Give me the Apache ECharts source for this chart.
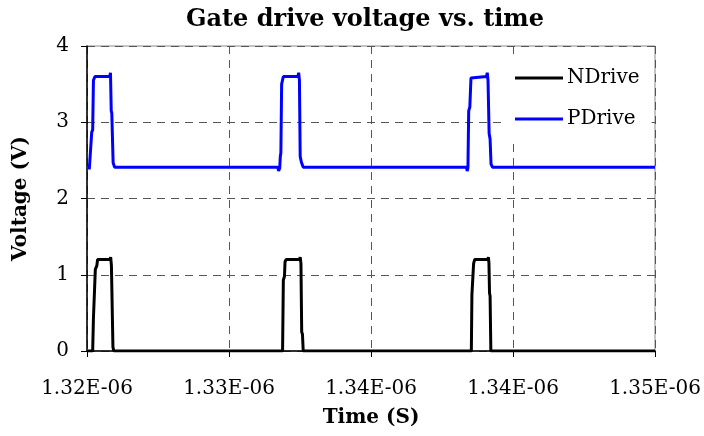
<!DOCTYPE html>
<html>
<head>
<meta charset="utf-8">
<script src="https://cdn.jsdelivr.net/npm/echarts@6/dist/echarts.min.js"></script>
<style>
  html, body { margin: 0; padding: 0; background: #fff; }
  #chart { width: 704px; height: 436px; }
</style>
</head>
<body>
<div id="chart"></div>
<script>
// time in ns, voltage in V
const xTickLabels = ['1.32E-06', '1.33E-06', '1.34E-06', '1.34E-06', '1.35E-06']

const nDrive = [
  [1320.05, 0], [1320.30, 0], [1320.34, 0.43], [1320.40, 0.45], [1320.44, 1.07], [1320.52, 1.12],
  [1320.56, 1.2], [1321.20, 1.2], [1321.25, 1.23], [1321.29, 1.12], [1321.33, 1.10], [1321.37, 0.05],
  [1321.42, 0],
  [1330.33, 0], [1330.37, 0.93], [1330.43, 0.98], [1330.46, 1.17], [1330.52, 1.2], [1331.22, 1.2],
  [1331.26, 1.23], [1331.30, 1.15], [1331.34, 0.25], [1331.38, 0.22], [1331.42, 0],
  [1340.30, 0], [1340.33, 0.74], [1340.38, 0.76], [1340.42, 1.15], [1340.48, 1.2], [1341.17, 1.2],
  [1341.20, 1.23], [1341.23, 1.15], [1341.26, 0.76], [1341.29, 0.72], [1341.33, 0],
  [1350, 0],
]

const pDrive = [
  [1320.12, 2.38], [1320.22, 2.4], [1320.25, 2.87], [1320.30, 2.9], [1320.34, 3.55], [1320.42, 3.6],
  [1321.20, 3.6], [1321.24, 3.65], [1321.28, 3.15], [1321.31, 3.12], [1321.38, 2.47], [1321.46, 2.41],
  [1330.08, 2.41], [1330.12, 2.36], [1330.18, 2.4], [1330.21, 2.55], [1330.24, 2.6], [1330.28, 3.5],
  [1330.37, 3.6], [1331.14, 3.6], [1331.18, 3.65], [1331.22, 3.55], [1331.26, 2.55], [1331.32, 2.48],
  [1331.42, 2.41],
  [1340.04, 2.41], [1340.08, 2.36], [1340.12, 2.4], [1340.16, 3.15], [1340.22, 3.2], [1340.28, 3.58],
  [1340.34, 3.6], [1341.10, 3.6], [1341.14, 3.65], [1341.18, 3.55], [1341.24, 2.85], [1341.29, 2.78],
  [1341.34, 2.45], [1341.42, 2.41],
  [1350, 2.41],
]

const font = '"DejaVu Serif", "Liberation Serif", serif'
const chart = echarts.init(document.getElementById('chart'), null, { renderer: 'canvas' })

chart.setOption({
  animation: false,
  backgroundColor: '#fff',
  textStyle: { fontFamily: font },
  title: {
    text: 'Gate drive voltage vs. time',
    left: 360,
    textAlign: 'center',
    top: 3,
    textStyle: { fontFamily: font, fontSize: 24, fontWeight: 'bold', color: '#000' },
  },
  grid: {
    left: 87,
    right: 49,
    top: 46,
    bottom: 85,
    show: true,
    borderColor: '#8a8a8a',
    borderWidth: 1,
  },
  legend: {
    orient: 'vertical',
    left: 505,
    top: 58,
    itemWidth: 48,
    itemHeight: 3,
    itemGap: 21,
    icon: 'rect',
    backgroundColor: '#fff',
    padding: [10, 12, 9, 10],
    textStyle: { fontFamily: font, fontSize: 20, color: '#000', padding: [0, 0, 0, -1] },
    data: ['NDrive', 'PDrive'],
  },
  xAxis: {
    type: 'value',
    min: 1320,
    max: 1350,
    interval: 7.5,
    name: 'Time (S)',
    nameLocation: 'middle',
    nameGap: 57,
    nameTextStyle: { fontFamily: font, fontSize: 20, fontWeight: 'bold', color: '#000' },
    axisLine: { show: true, lineStyle: { color: '#000', width: 1.5 } },
    axisTick: { show: true, length: 6, lineStyle: { color: '#000' } },
    axisLabel: {
      fontFamily: font,
      fontSize: 20,
      color: '#000',
      margin: 28,
      formatter: (v) => xTickLabels[Math.round((v - 1320) / 7.5)],
    },
    splitLine: { show: true, lineStyle: { color: '#555', type: [8, 6], width: 1 } },
  },
  yAxis: {
    type: 'value',
    min: 0,
    max: 4,
    interval: 1,
    name: 'Voltage (V)',
    nameLocation: 'middle',
    nameGap: 56,
    nameTextStyle: { fontFamily: font, fontSize: 20, fontWeight: 'bold', color: '#000' },
    axisLine: { show: true, lineStyle: { color: '#000', width: 1.5 } },
    axisTick: { show: true, length: 6, lineStyle: { color: '#000' } },
    axisLabel: { fontFamily: font, fontSize: 20, color: '#000', margin: 18 },
    splitLine: { show: true, lineStyle: { color: '#555', type: [8, 6], width: 1 } },
  },
  series: [
    {
      name: 'NDrive',
      type: 'line',
      data: nDrive,
      symbol: 'none',
      lineStyle: { color: '#000', width: 3 },
      itemStyle: { color: '#000' },
      z: 3,
    },
    {
      name: 'PDrive',
      type: 'line',
      data: pDrive,
      symbol: 'none',
      lineStyle: { color: '#0000ff', width: 3 },
      itemStyle: { color: '#0000ff' },
      z: 3,
    },
  ],
})
</script>
</body>
</html>
